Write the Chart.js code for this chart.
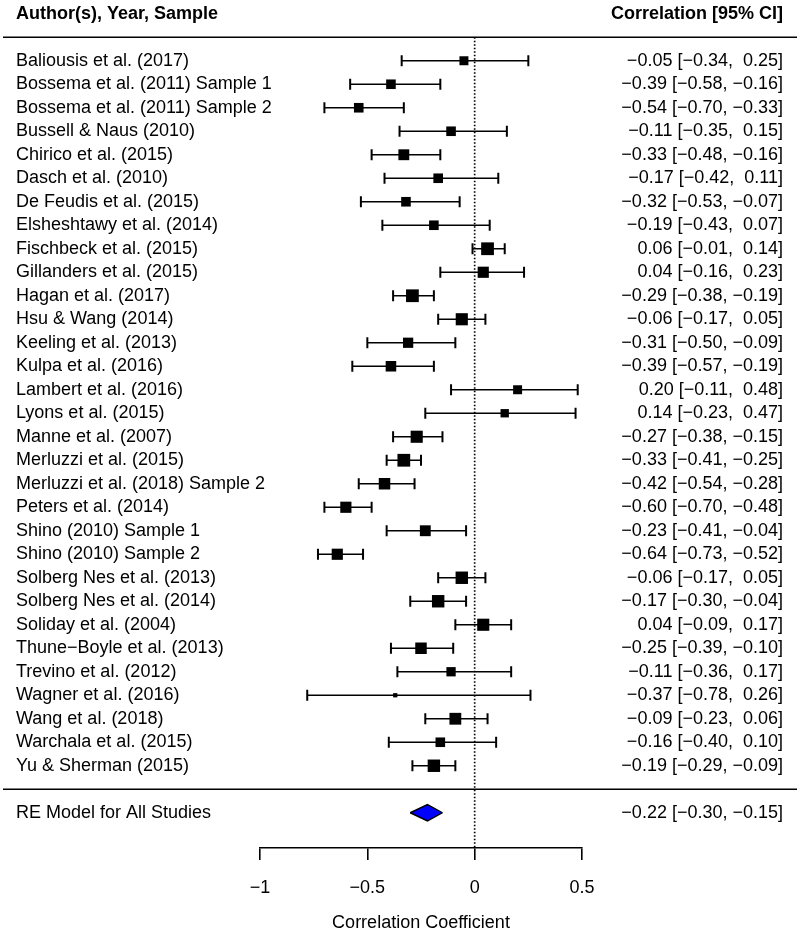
<!DOCTYPE html>
<html><head><meta charset="utf-8">
<script src="https://cdn.jsdelivr.net/npm/chart.js@4.4.1/dist/chart.umd.min.js"></script>
<style>html,body{margin:0;padding:0;background:#fff}canvas{display:block}</style>
</head><body>
<canvas id="c" width="800" height="934"></canvas>
<script>
const studies = [
  'Baliousis et al. (2017)','Bossema et al. (2011) Sample 1','Bossema et al. (2011) Sample 2',
  'Bussell & Naus (2010)','Chirico et al. (2015)','Dasch et al. (2010)','De Feudis et al. (2015)',
  'Elsheshtawy et al. (2014)','Fischbeck et al. (2015)','Gillanders et al. (2015)','Hagan et al. (2017)',
  'Hsu & Wang (2014)','Keeling et al. (2013)','Kulpa et al. (2016)','Lambert et al. (2016)',
  'Lyons et al. (2015)','Manne et al. (2007)','Merluzzi et al. (2015)','Merluzzi et al. (2018) Sample 2',
  'Peters et al. (2014)','Shino (2010) Sample 1','Shino (2010) Sample 2','Solberg Nes et al. (2013)',
  'Solberg Nes et al. (2014)','Soliday et al. (2004)','Thune\u2212Boyle et al. (2013)','Trevino et al. (2012)',
  'Wagner et al. (2016)','Wang et al. (2018)','Warchala et al. (2015)','Yu & Sherman (2015)'
];
const estimates = [-0.05,-0.39,-0.54,-0.11,-0.33,-0.17,-0.32,-0.19,0.06,0.04,-0.29,-0.06,-0.31,-0.39,0.20,0.14,-0.27,-0.33,-0.42,-0.60,-0.23,-0.64,-0.06,-0.17,0.04,-0.25,-0.11,-0.37,-0.09,-0.16,-0.19];
const lower =     [-0.34,-0.58,-0.70,-0.35,-0.48,-0.42,-0.53,-0.43,-0.01,-0.16,-0.38,-0.17,-0.50,-0.57,-0.11,-0.23,-0.38,-0.41,-0.54,-0.70,-0.41,-0.73,-0.17,-0.30,-0.09,-0.39,-0.36,-0.78,-0.23,-0.40,-0.29];
const upper =     [0.25,-0.16,-0.33,0.15,-0.16,0.11,-0.07,0.07,0.14,0.23,-0.19,0.05,-0.09,-0.19,0.48,0.47,-0.15,-0.25,-0.28,-0.48,-0.04,-0.52,0.05,-0.04,0.17,-0.10,0.17,0.26,0.06,0.10,-0.09];
// estimated study weights (%)
const weights =   [2.6,2.8,2.8,2.8,3.2,2.8,2.8,2.8,3.8,3.3,3.8,3.6,3.0,3.1,2.6,2.4,3.6,3.8,3.4,3.3,3.2,3.3,3.7,3.7,3.6,3.4,2.7,1.1,3.5,2.8,3.7];
const pooledLabel = 'RE Model for All Studies';
const pooledValues = [-0.22, -0.30, -0.15]; // estimate, lower, upper
const xTicks = [-1, -0.5, 0, 0.5];
const headerLeft = 'Author(s), Year, Sample';
const headerRight = 'Correlation [95% CI]';
const xTitle = 'Correlation Coefficient';

const FONT = '"Liberation Sans", Arial, Helvetica, sans-serif';
Chart.defaults.font.family = FONT;
Chart.defaults.color = '#000';

const k = studies.length;
const rowY = i => k - i;
const pooledY = -1;

const minus = v => (v < 0 ? '\u2212' : '') + Math.abs(v).toFixed(2);
const padNum = v => (v >= 0 ? ' ' : '') + minus(v);
const ciText = (e, l, u) => `${minus(e)} [${padNum(l)}, ${padNum(u)}]`;

const wMin = Math.min(...weights), wMax = Math.max(...weights);
const sideOf = w => 8.5 * (0.5 + (w - wMin) / (wMax - wMin));

const datasets = [];
// dotted reference line at 0
datasets.push({
  type: 'line', showLine: true, order: 5,
  data: [{x: 0, y: k + 1}, {x: 0, y: -2.5}],
  borderColor: '#000', borderWidth: 1.7, borderDash: [1.5, 2], pointRadius: 0
});
// CI lines with whiskers
studies.forEach((s, i) => {
  datasets.push({
    type: 'line', showLine: true, order: 3,
    data: [{x: lower[i], y: rowY(i)}, {x: upper[i], y: rowY(i)}],
    borderColor: '#000', borderWidth: 1.7,
    pointStyle: 'line', pointRotation: 90, pointRadius: 5.5,
    pointBorderColor: '#000', pointBorderWidth: 2, pointBackgroundColor: '#000'
  });
});
// squares
datasets.push({
  type: 'scatter', order: 1,
  data: estimates.map((e, i) => ({x: e, y: rowY(i)})),
  pointStyle: 'rect',
  pointRadius: weights.map(w => sideOf(w) / Math.SQRT2),
  pointBackgroundColor: '#000', pointBorderWidth: 0, pointBorderColor: '#000'
});
// pooled diamond (upper half filled down to lower half)
const h = 0.35;
datasets.push({
  type: 'line', showLine: true, order: 1,
  data: [{x: pooledValues[1], y: pooledY}, {x: pooledValues[0], y: pooledY + h}, {x: pooledValues[2], y: pooledY}],
  borderColor: '#000', borderWidth: 1.4, pointRadius: 0, fill: false, backgroundColor: '#0000FF'
});
datasets.push({
  type: 'line', showLine: true, order: 1,
  data: [{x: pooledValues[1], y: pooledY}, {x: pooledValues[0], y: pooledY - h}, {x: pooledValues[2], y: pooledY}],
  borderColor: '#000', borderWidth: 1.4, pointRadius: 0, fill: '-1', backgroundColor: '#0000FF'
});

const textPlugin = {
  id: 'forestText',
  afterDraw(chart) {
    const ctx = chart.ctx, ys = chart.scales.y, W = chart.width;
    ctx.save();
    ctx.fillStyle = '#000';
    ctx.textBaseline = 'middle';
    ctx.font = 'bold 18px ' + FONT;
    ctx.textAlign = 'left';
    ctx.fillText(headerLeft, 16, ys.getPixelForValue(k + 2));
    ctx.textAlign = 'right';
    ctx.fillText(headerRight, 783, ys.getPixelForValue(k + 2));
    ctx.font = '18px ' + FONT;
    studies.forEach((s, i) => {
      const y = ys.getPixelForValue(rowY(i));
      ctx.textAlign = 'left';
      ctx.fillText(s, 16, y);
      ctx.textAlign = 'right';
      ctx.fillText(ciText(estimates[i], lower[i], upper[i]), 783, y);
    });
    const py = ys.getPixelForValue(pooledY);
    ctx.textAlign = 'left';
    ctx.fillText(pooledLabel, 16, py);
    ctx.textAlign = 'right';
    ctx.fillText(ciText(pooledValues[0], pooledValues[1], pooledValues[2]), 783, py);
    ctx.strokeStyle = '#000';
    ctx.lineWidth = 1.7;
    [k + 1, 0].forEach(v => {
      const y = ys.getPixelForValue(v);
      ctx.beginPath(); ctx.moveTo(3, y); ctx.lineTo(W - 3, y); ctx.stroke();
    });
    ctx.restore();
  }
};

new Chart(document.getElementById('c'), {
  type: 'scatter',
  data: { datasets },
  plugins: [textPlugin],
  options: {
    responsive: false, animation: false, devicePixelRatio: 1,
    layout: { autoPadding: false, padding: { left: 260, right: 218, top: 2, bottom: 0 } },
    plugins: { legend: { display: false }, tooltip: { enabled: false } },
    scales: {
      x: {
        type: 'linear', min: -1, max: 0.5,
        afterBuildTicks: s => { s.ticks = xTicks.map(v => ({ value: v })); },
        afterFit: s => { s.height = 86; },
        ticks: {
          font: { size: 18 }, color: '#000', padding: 17, maxRotation: 0, autoSkip: false,
          callback: v => (v === 0 ? '0' : (v < 0 ? '\u2212' : '') + Math.abs(v))
        },
        grid: { drawOnChartArea: false, drawTicks: true, tickLength: 12, color: '#000', lineWidth: 1.6 },
        border: { display: true, color: '#000', width: 1.6 },
        title: { display: true, text: xTitle, font: { size: 18 }, color: '#000', padding: { top: 0, bottom: 0 } }
      },
      y: { type: 'linear', min: -2.5, max: 33.5, display: false }
    }
  }
});
</script>
</body></html>
